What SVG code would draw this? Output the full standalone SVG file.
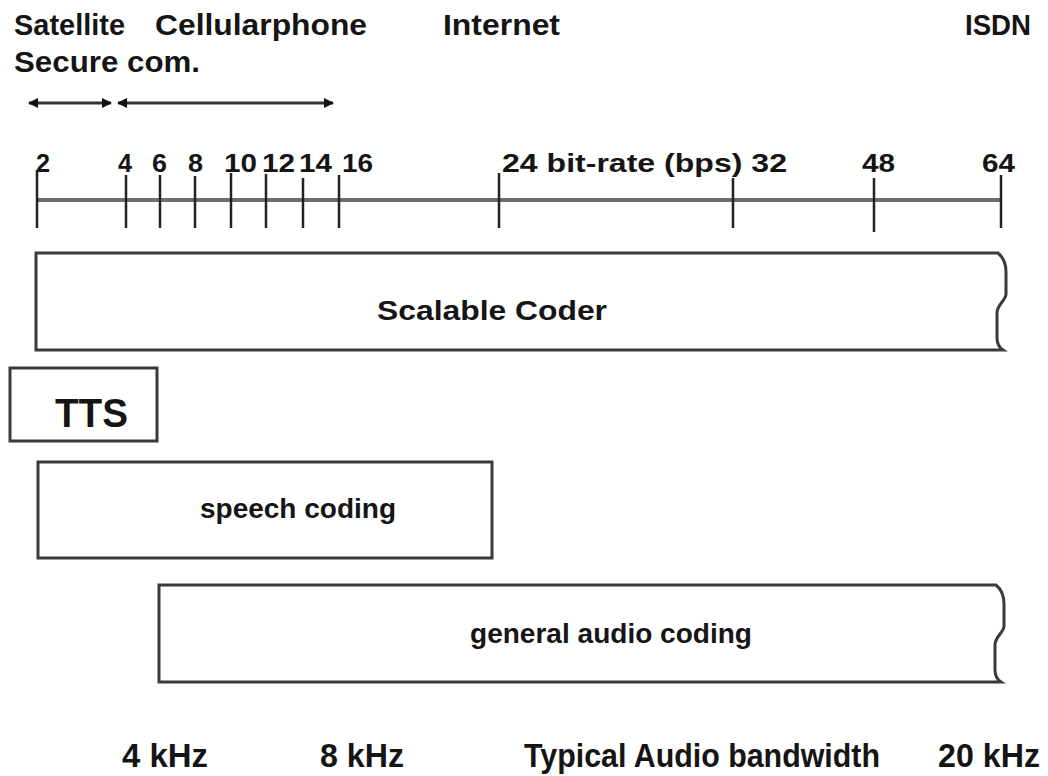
<svg xmlns="http://www.w3.org/2000/svg" width="1048" height="776" viewBox="0 0 1048 776">
<defs>
<style>
text{font-family:"Liberation Sans",Arial,sans-serif;font-weight:bold;fill:#151515}
.top{font-size:29px}
.num{font-size:26px}
.lbl{font-size:27px}
.bot{font-size:34px}
.box{fill:#fff;stroke:#3a3a3a;stroke-width:3}
.tick{stroke:#222;stroke-width:2.5}
.axis{stroke:#6e6e6e;stroke-width:4}
.arr{stroke:#333;stroke-width:3;fill:none}
</style>
<marker id="ah" viewBox="0 0 10 10" refX="9" refY="5" markerWidth="10" markerHeight="10" markerUnits="userSpaceOnUse" orient="auto-start-reverse">
<path d="M0,0 L10,5 L0,10 z" fill="#111"/>
</marker>
</defs>
<rect width="1048" height="776" fill="#fff"/>

<g id="labels-top">
<text class="top" x="14" y="35" textLength="111" lengthAdjust="spacingAndGlyphs">Satellite</text>
<text class="top" x="155" y="35" textLength="212" lengthAdjust="spacingAndGlyphs">Cellularphone</text>
<text class="top" x="443" y="35" textLength="117" lengthAdjust="spacingAndGlyphs">Internet</text>
<text class="top" x="965" y="35" textLength="66" lengthAdjust="spacingAndGlyphs">ISDN</text>
<text class="top" x="14" y="72" textLength="186" lengthAdjust="spacingAndGlyphs">Secure com.</text>
</g>

<g id="connectors">
<line class="arr" x1="29" y1="103" x2="111" y2="103" marker-start="url(#ah)" marker-end="url(#ah)"/>
<line class="arr" x1="118" y1="103" x2="333" y2="103" marker-start="url(#ah)" marker-end="url(#ah)"/>
</g>

<g id="axis">
<line class="axis" x1="36" y1="200" x2="1001" y2="200"/>
<line class="tick" x1="37" y1="170" x2="37" y2="228"/>
<line class="tick" x1="126" y1="175" x2="126" y2="228"/>
<line class="tick" x1="160" y1="175" x2="160" y2="228"/>
<line class="tick" x1="195" y1="176" x2="195" y2="228"/>
<line class="tick" x1="231" y1="173" x2="231" y2="228"/>
<line class="tick" x1="266" y1="174" x2="266" y2="228"/>
<line class="tick" x1="303" y1="178" x2="303" y2="228"/>
<line class="tick" x1="339" y1="175" x2="339" y2="228"/>
<line class="tick" x1="499" y1="173" x2="499" y2="228"/>
<line class="tick" x1="733" y1="178" x2="733" y2="228"/>
<line class="tick" x1="874" y1="178" x2="874" y2="232"/>
<line class="tick" x1="1001" y1="175" x2="1001" y2="228"/>
<text class="num" x="36" y="172" textLength="14" lengthAdjust="spacingAndGlyphs">2</text>
<text class="num" x="118" y="172" textLength="14" lengthAdjust="spacingAndGlyphs">4</text>
<text class="num" x="152" y="172" textLength="15" lengthAdjust="spacingAndGlyphs">6</text>
<text class="num" x="188" y="172" textLength="15" lengthAdjust="spacingAndGlyphs">8</text>
<text class="num" x="224" y="172" textLength="33" lengthAdjust="spacingAndGlyphs">10</text>
<text class="num" x="262" y="172" textLength="33" lengthAdjust="spacingAndGlyphs">12</text>
<text class="num" x="299" y="172" textLength="33" lengthAdjust="spacingAndGlyphs">14</text>
<text class="num" x="342" y="172" textLength="31" lengthAdjust="spacingAndGlyphs">16</text>
<text class="num" x="502" y="172" textLength="285" lengthAdjust="spacingAndGlyphs">24 bit-rate (bps) 32</text>
<text class="num" x="862" y="172" textLength="33" lengthAdjust="spacingAndGlyphs">48</text>
<text class="num" x="982" y="172" textLength="33" lengthAdjust="spacingAndGlyphs">64</text>
</g>

<g id="scalable-coder">
<path class="box" d="M998,253 L36,253 L36,350 L1003,350 C1000,348 997,344 997,338 L997,312 C998,304 1006,300 1006,294 L1006,272 C1006,264 1004,258 998,253 Z"/>
<text class="lbl" x="377" y="320" textLength="230" lengthAdjust="spacingAndGlyphs">Scalable Coder</text>
</g>

<g id="tts">
<rect class="box" x="10" y="368" width="147" height="73"/>
<text x="55" y="427" style="font-size:40px" textLength="73" lengthAdjust="spacingAndGlyphs">TTS</text>
</g>

<g id="speech-coding">
<rect class="box" x="38" y="462" width="454" height="96"/>
<text class="lbl" x="200" y="518" textLength="196" lengthAdjust="spacingAndGlyphs">speech coding</text>
</g>

<g id="general-audio-coding">
<path class="box" d="M996,585 L159,585 L159,682 L1001,682 C998,680 995,676 995,670 L995,644 C996,636 1004,632 1004,626 L1004,604 C1004,596 1002,590 996,585 Z"/>
<text class="lbl" x="470" y="643" textLength="282" lengthAdjust="spacingAndGlyphs">general audio coding</text>
</g>

<g id="labels-bottom">
<text class="bot" x="122" y="767" textLength="86" lengthAdjust="spacingAndGlyphs">4 kHz</text>
<text class="bot" x="320" y="767" textLength="84" lengthAdjust="spacingAndGlyphs">8 kHz</text>
<text class="bot" x="524" y="767" textLength="356" lengthAdjust="spacingAndGlyphs">Typical Audio bandwidth</text>
<text class="bot" x="938" y="767" textLength="102" lengthAdjust="spacingAndGlyphs">20 kHz</text>
</g>
</svg>
